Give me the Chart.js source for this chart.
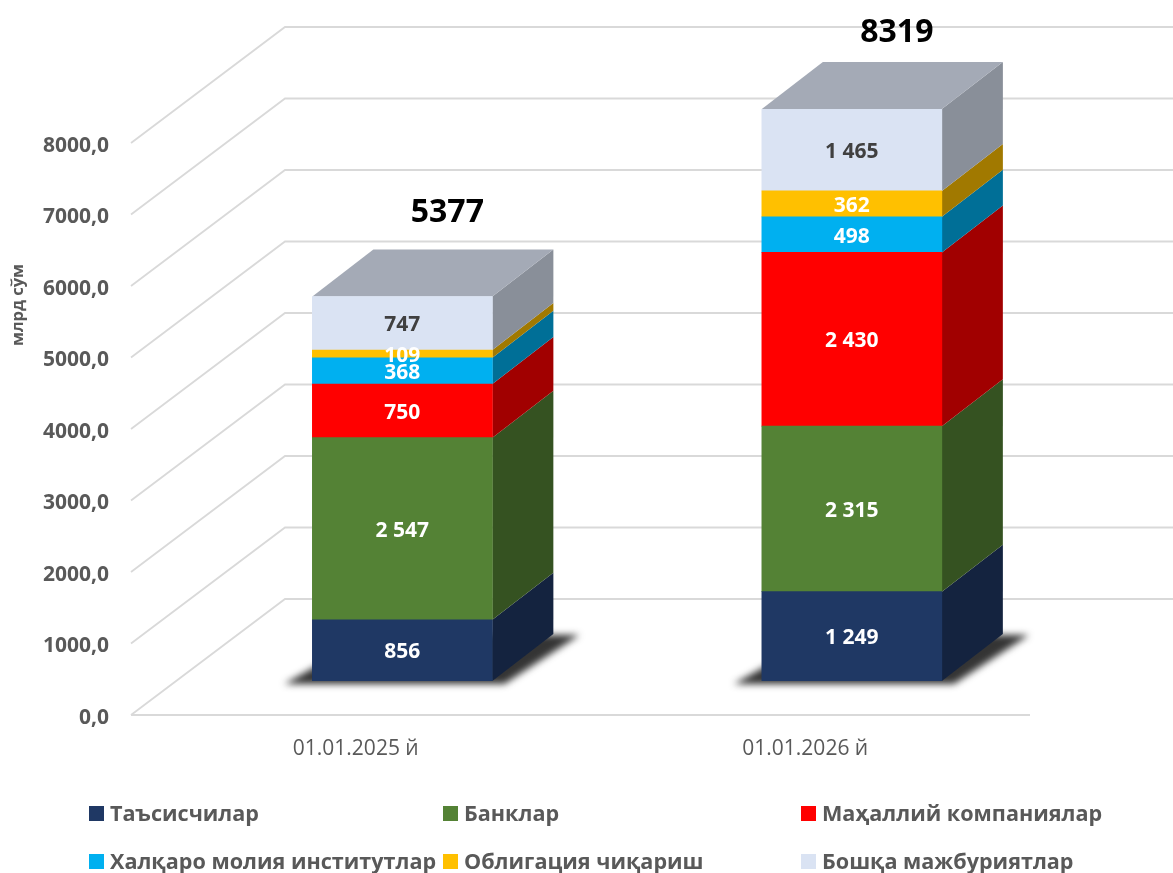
<!DOCTYPE html>
<html>
<head>
<meta charset="utf-8">
<title>chart</title>
<script src="https://cdn.jsdelivr.net/npm/chart.js@4"></script>
<style>
  html, body { margin: 0; padding: 0; background: #fff; }
  canvas { display: block; }
</style>
</head>
<body>
<canvas id="myChart" width="1173" height="873"></canvas>
<script>
const categories = ['01.01.2025 й', '01.01.2026 й'];
const founders = [856, 1249];
const banks = [2547, 2315];
const localCompanies = [750, 2430];
const intlInstitutions = [368, 498];
const bonds = [109, 362];
const otherLiabilities = [747, 1465];
const totals = [5377, 8319];
const yTickLabels = ['0,0', '1000,0', '2000,0', '3000,0', '4000,0', '5000,0', '6000,0', '7000,0', '8000,0'];

const seriesNames = ['Таъсисчилар', 'Банклар', 'Маҳаллий компаниялар', 'Халқаро молия институтлар', 'Облигация чиқариш', 'Бошқа мажбуриятлар'];
const seriesValues = [founders, banks, localCompanies, intlInstitutions, bonds, otherLiabilities];
const seriesColors = ['#1f3864', '#548235', '#ff0000', '#00b0f0', '#ffc000', '#dae3f3'];
const labelColors = ['#fff', '#fff', '#fff', '#fff', '#fff', '#404040'];

const FONT = '"Open Sans", sans-serif';
const GREY = '#595959';

// fake 3D: wall offset, bar offset from the front of the floor, bar depth
const wall = { x: 154, y: -116 };
const front = { x: 46.6, y: -34 };
const depth = { x: 61, y: -47 };
const totalLift = [84, 76];
const legendCols = [89, 443, 801];
const legendRows = [813, 861];

const shade = (hex, f) => {
  const n = parseInt(hex.slice(1), 16);
  const c = [n >> 16, (n >> 8) & 255, n & 255].map(v => Math.round(v * f));
  return `rgb(${c[0]},${c[1]},${c[2]})`;
};

const poly = (ctx, pts, fill) => {
  ctx.fillStyle = fill;
  ctx.beginPath();
  pts.forEach((p, i) => (i ? ctx.lineTo(p[0], p[1]) : ctx.moveTo(p[0], p[1])));
  ctx.closePath();
  ctx.fill();
};

const fakeDepth = {
  id: 'fakeDepth',
  beforeDatasetsDraw(chart) {
    const { ctx, chartArea, scales } = chart;

    // grid: floor + back wall
    ctx.save();
    ctx.strokeStyle = '#d9d9d9';
    ctx.lineWidth = 1.8;
    scales.y.ticks.forEach(t => {
      const y = scales.y.getPixelForValue(t.value);
      ctx.beginPath();
      ctx.moveTo(chartArea.left, y);
      ctx.lineTo(chartArea.left + wall.x, y + wall.y);
      ctx.lineTo(chart.width, y + wall.y);
      ctx.stroke();
    });
    const y0 = scales.y.getPixelForValue(0);
    ctx.beginPath();
    ctx.moveTo(chartArea.left, y0);
    ctx.lineTo(chartArea.right, y0);
    ctx.stroke();
    ctx.restore();

    // shadow on the floor
    ctx.save();
    ctx.filter = 'blur(3.5px)';
    chart.getDatasetMeta(0).data.forEach(bar => {
      const l = bar.x - bar.width / 2 + front.x;
      const r = bar.x + bar.width / 2 + front.x;
      const b = bar.base + front.y;
      poly(ctx, [[l - 28, b + 3], [r + 12, b + 3], [r + depth.x + 26, b + depth.y + 1], [l + depth.x, b + depth.y]], 'rgba(30,30,30,0.9)');
    });
    ctx.restore();

    // side and top faces
    const top = chartArea.top;
    chart.data.datasets.forEach((ds, d) => {
      chart.getDatasetMeta(d).data.forEach(bar => {
        const r = bar.x + bar.width / 2 + front.x;
        const y1 = Math.max(bar.y, top) + front.y;
        const y2 = Math.max(bar.base, top) + front.y;
        poly(ctx, [[r, y2], [r + depth.x, y2 + depth.y], [r + depth.x, y1 + depth.y], [r, y1]], shade(seriesColors[d], 0.63));
      });
    });
    const lastDs = chart.data.datasets.length - 1;
    chart.getDatasetMeta(lastDs).data.forEach(bar => {
      const l = bar.x - bar.width / 2 + front.x;
      const r = bar.x + bar.width / 2 + front.x;
      const y = Math.max(bar.y, top) + front.y;
      poly(ctx, [[l, y], [r, y], [r + depth.x, y + depth.y], [l + depth.x, y + depth.y]], shade(seriesColors[lastDs], 0.75));
    });

    // front faces are the normal bars, just moved onto the floor
    ctx.save();
    ctx.translate(front.x, front.y);
  },
  afterDatasetsDraw(chart) {
    const { ctx, chartArea } = chart;
    ctx.restore();

    // value labels
    ctx.save();
    ctx.textAlign = 'center';
    ctx.textBaseline = 'middle';
    ctx.font = `bold 21px ${FONT}`;
    chart.data.datasets.forEach((ds, d) => {
      chart.getDatasetMeta(d).data.forEach((bar, i) => {
        const y1 = Math.max(bar.y, chartArea.top);
        const y2 = Math.max(bar.base, chartArea.top);
        ctx.fillStyle = labelColors[d];
        const txt = String(ds.data[i]).replace(/\B(?=(\d{3})+$)/g, ' ');
        ctx.fillText(txt, bar.x + front.x, (y1 + y2) / 2 + front.y + 2);
      });
    });

    // totals above the boxes
    const lastDs = chart.data.datasets.length - 1;
    ctx.font = `bold 32px ${FONT}`;
    ctx.fillStyle = '#000';
    chart.getDatasetMeta(lastDs).data.forEach((bar, i) => {
      const y = Math.max(bar.y, chartArea.top) + front.y;
      ctx.fillText(String(totals[i]), bar.x + front.x + 45, y - totalLift[i]);
    });

    // axis title
    ctx.save();
    ctx.translate(18, 305);
    ctx.rotate(-Math.PI / 2);
    ctx.font = `bold 16.5px ${FONT}`;
    ctx.fillStyle = GREY;
    ctx.fillText('млрд сўм', 0, 0);
    ctx.restore();

    // legend, fixed three columns
    ctx.textAlign = 'left';
    ctx.font = `bold 21.6px ${FONT}`;
    chart.data.datasets.forEach((ds, d) => {
      const x = legendCols[d % 3];
      const y = legendRows[Math.floor(d / 3)];
      ctx.fillStyle = ds.backgroundColor;
      ctx.fillRect(x, y - 7, 15, 15);
      ctx.fillStyle = GREY;
      ctx.fillText(ds.label, x + 21, y + 2);
    });
    ctx.restore();
  },
};

new Chart(document.getElementById('myChart').getContext('2d'), {
  type: 'bar',
  data: {
    labels: categories,
    datasets: seriesNames.map((name, i) => ({
      label: name,
      data: seriesValues[i],
      backgroundColor: seriesColors[i],
      barThickness: 180,
    })),
  },
  plugins: [fakeDepth],
  options: {
    responsive: false,
    animation: false,
    layout: { padding: { top: 143, right: 143 } },
    plugins: { legend: { display: false }, tooltip: { enabled: false } },
    scales: {
      x: {
        stacked: true,
        afterFit: scale => { scale.height = 158; },
        grid: { display: false, drawTicks: false },
        border: { display: false },
        ticks: { color: GREY, padding: 21, maxRotation: 0, font: { family: FONT, size: 21 } },
      },
      y: {
        stacked: true,
        min: 0,
        max: 8000,
        afterFit: scale => { scale.width = 131; },
        grid: { display: false, drawTicks: false },
        border: { display: false },
        ticks: {
          stepSize: 1000,
          color: GREY,
          padding: 22,
          labelOffset: 3,
          font: { family: FONT, size: 21, weight: 'bold' },
          callback: (value, i) => yTickLabels[i],
        },
      },
    },
  },
});
</script>
</body>
</html>
